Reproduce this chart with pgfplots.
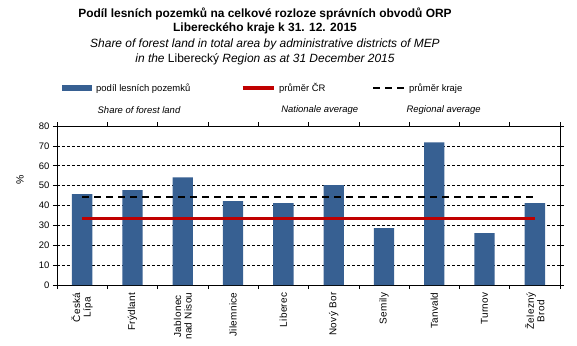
\documentclass[border=0pt]{standalone}
\usepackage{pgfplots}
\pgfplotsset{compat=1.18}
\usepackage{fontspec}
\setmainfont{Liberation Sans}
\definecolor{barblue}{RGB}{55,96,146}
\definecolor{avgred}{RGB}{192,0,0}
\begin{document}
\begin{tikzpicture}[x=1bp,y=1bp]
\useasboundingbox (-57bp,-61bp) rectangle (520bp,285bp);
\begin{axis}[
  at={(0,0)}, anchor=south west,
  scale only axis, width=503bp, height=159bp,
  xmin=-0.5, xmax=9.5, ymin=0, ymax=80,
  ytick={0,10,...,80},
  xtick={0,...,9},
  xticklabels={{Česká\\Lípa},Frýdlant,{Jablonec\\nad Nisou},Jilemnice,Liberec,{Nový Bor},Semily,Tanvald,Turnov,{Železný\\Brod}},
  minor xtick={-0.5,0.5,...,9.5},
  major x tick style={draw=none},
  tick align=outside,
  major tick length=4bp, minor tick length=4bp,
  tick style={black, line width=0.6bp},
  ymajorgrids,
  major grid style={black, dash pattern=on 3bp off 2bp, line width=0.6bp},
  axis line style={black, line width=0.8bp},
  /pgf/number format/assume math mode=true,
  ticklabel style={font=\fontsize{9.5}{10}\selectfont},
  xticklabel style={rotate=90, anchor=east, align=center, font=\fontsize{10}{10.5}\selectfont\addfontfeature{LetterSpace=3.5}},
  ylabel={\%},
  ylabel style={at={(axis description cs:-0.0735,0.66)}, anchor=center, font=\fontsize{10.5}{12}\selectfont},
  legend columns=3,
  legend style={at={(axis description cs:0.01,1.239)}, anchor=west, draw=none, fill=none,
    inner sep=0pt, font=\fontsize{9.5}{10}\selectfont, nodes={inner sep=0pt},
    /tikz/every odd column/.append style={column sep=4bp},
    /tikz/every even column/.append style={column sep=0bp}},
  clip=false,
]
\addplot[ybar, bar width=20.3bp, fill=barblue, draw=none,
  legend image code/.code={\fill[barblue] (0bp,-2.7bp) rectangle (30bp,2.7bp);}]
  coordinates {(0,45.7)(1,47.7)(2,54.2)(3,42.2)(4,41.2)(5,50.2)(6,28.6)(7,71.8)(8,26.1)(9,41.2)};
\addlegendentry{\makebox[145bp][l]{podíl lesních pozemků}}
\addplot[avgred, line width=3bp,
  legend image code/.code={\draw[avgred, line width=3bp] (0bp,0bp) -- (31bp,0bp);}]
  coordinates {(0,33.5)(9,33.5)};
\addlegendentry{\makebox[93bp][l]{průměr ČR}}
\addplot[black, line width=2bp, dash pattern=on 7bp off 5bp,
  legend image code/.code={\draw[black, line width=2bp, dash pattern=on 7bp off 5bp] (0bp,0bp) -- (31bp,0bp);}]
  coordinates {(0,44.4)(9,44.4)};
\addlegendentry{průměr kraje}
\node[font=\itshape\fontsize{9.5}{10}\selectfont, anchor=center] at (axis description cs:0.163,1.10) {Share of forest land};
\node[font=\itshape\fontsize{9.5}{10}\selectfont, anchor=west] at (axis description cs:0.439,1.10) {Nationale average};
\node[font=\itshape\fontsize{9.5}{10}\selectfont, anchor=west] at (axis description cs:0.688,1.10) {Regional average};
\end{axis}
\node[font=\bfseries\fontsize{12}{13}\selectfont, anchor=base] at (208,268) {Podíl lesních pozemků na celkové rozloze správních obvodů ORP};
\node[font=\bfseries\fontsize{12}{13}\selectfont, anchor=base] at (208,254) {Libereckého kraje k 31. 12. 2015};
\node[font=\itshape\fontsize{12}{12}\selectfont, anchor=base] at (208,237.5) {Share of forest land in total area by administrative districts of MEP};
\node[font=\fontsize{12}{12}\selectfont, anchor=base] at (208,222.5) {\textit{in the} Liberecký \textit{Region as at 31 December 2015}};
\end{tikzpicture}
\end{document}
